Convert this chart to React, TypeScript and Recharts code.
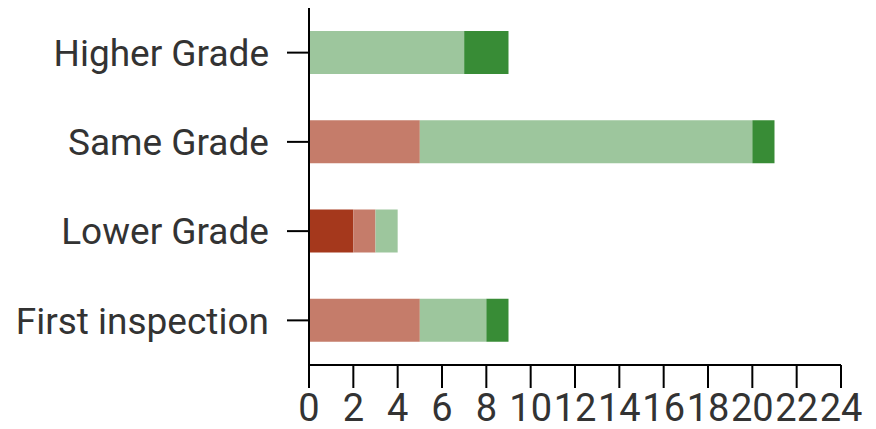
import { BarChart, Bar, XAxis, YAxis } from "recharts";

const categories = ["Higher Grade", "Same Grade", "Lower Grade", "First inspection"];
const muchLower = [0, 0, 2, 0];
const lower = [0, 5, 1, 5];
const same = [7, 15, 1, 3];
const higher = [2, 1, 0, 1];
const xTicks = [0, 2, 4, 6, 8, 10, 12, 14, 16, 18, 20, 22, 24];

const data = categories.map((name, i) => ({
  name,
  muchLower: muchLower[i],
  lower: lower[i],
  same: same[i],
  higher: higher[i],
}));

const tickStyle = { fontFamily: "Roboto", fill: "#333333" };

export default function App() {
  return (
    <div style={{ position: "absolute", left: 0, top: 0, background: "#fff" }}>
      <BarChart
        width={876}
        height={429}
        data={data}
        layout="vertical"
        margin={{ top: 8, right: 35, left: 0, bottom: 0 }}
        barSize={43}
      >
        <XAxis
          type="number"
          domain={[0, 24]}
          ticks={xTicks}
          interval={0}
          stroke="#000"
          strokeWidth={2}
          tickSize={23}
          tickMargin={6}
          height={64}
          tick={{ ...tickStyle, fontSize: 38 }}
        />
        <YAxis
          type="category"
          dataKey="name"
          width={309}
          stroke="#000"
          strokeWidth={2}
          tickSize={22}
          tickMargin={18}
          interval={0}
          tick={{ ...tickStyle, fontSize: 37 }}
        />
        <Bar dataKey="muchLower" stackId="a" fill="#a5381c" isAnimationActive={false} />
        <Bar dataKey="lower" stackId="a" fill="#c57c6a" isAnimationActive={false} />
        <Bar dataKey="same" stackId="a" fill="#9dc69d" isAnimationActive={false} />
        <Bar dataKey="higher" stackId="a" fill="#388c36" isAnimationActive={false} />
      </BarChart>
    </div>
  );
}
